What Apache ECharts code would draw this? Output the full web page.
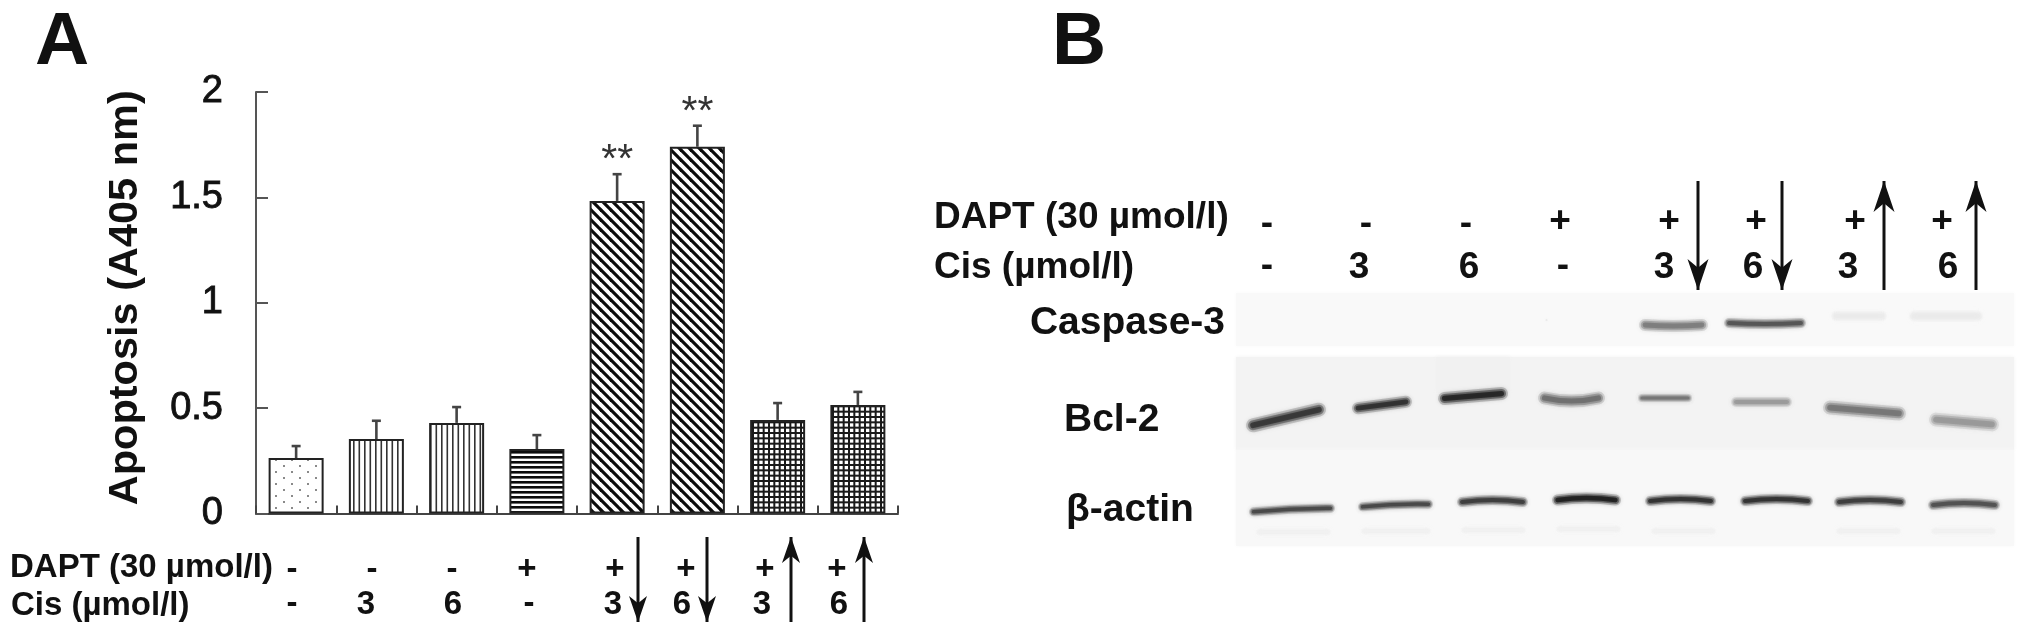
<!DOCTYPE html>
<html><head><meta charset="utf-8">
<style>html,body{margin:0;padding:0;background:#fff}#c{width:2031px;height:640px}</style>
<script src="https://cdn.jsdelivr.net/npm/echarts@6/dist/echarts.min.js"></script>
</head><body><div id="c"></div>
<script>
// ---------- data ----------
const groups = ['G1','G2','G3','G4','G5','G6','G7','G8'];
const apoptosis = [0.263,0.353,0.43,0.306,1.483,1.74,0.444,0.515];
const errorTop  = [0.32,0.44,0.505,0.372,1.61,1.84,0.524,0.577];
const stars     = ['','','','','**','**','',''];
const dapt = ['-','-','-','+','+','+','+','+'];
const cis  = ['-','3','6','-','3','6','3','6'];
const arrows = ['','','','','down','down','up','up'];
const blotLabels = ['Caspase-3','Bcl-2','β-actin'];
// blot bands, read in blot units: [xStart,yStart,xEnd,yEnd,thickness,density,bow]
const caspaseBands = [[309,27,312,27,3,.05,0],[403,32,472,32,12,.55,1],[488,30,570,30,10,.75,1],[595,23,651,23,10,.03,0],[673,23,747,23,11,.03,0]];
const bcl2Bands = [[10,134,90,115,14,.88,0],[116,116,176,108,12,.92,0],[202,106,272,100,13,.97,0],[302,105,369,105,13,.62,3],[402,105,456,105,8,.6,0],[495,109,556,109,10,.42,0],[587,114,670,121,14,.58,0],[693,126,763,132,14,.42,0]];
const actinBands = [[13,219,99,215,9,.82,-1],[122,214,197,211,9,.82,-1],[221,209,292,209,10,.87,-2],[316,207,385,207,11,1,-2],[409,208,480,208,10,.92,-2],[504,208,577,208,10,.92,-2],[598,209,670,209,10,.87,-2],[692,212,764,212,10,.77,-2]];
const actinGhostBands = [[20,239,95,239,7,.0,0],[125,238,195,238,7,.0,0],[225,237,290,237,7,.0,0],[320,236,385,236,7,.0,0],[415,238,480,238,7,.0,0],[600,238,665,238,7,.0,0],[695,238,760,238,7,.0,0]];
// blot backgrounds: [xStart,xEnd,yStart,yEnd,grey]
const blotPanels = [[0,778,0,53,249],[0,778,64,157,243],[200,274,64,100,241],[0,778,157,253,248]];

// ---------- layout ----------
const INK='#111';
const FONT='"Liberation Sans",Arial,sans-serif';
const aDaptX=[292,372,452,527,615,686,765,837], aCisX=[292,366,453,529,613,682,762,839];
const bDaptX=[1267,1366,1466,1560,1669,1756,1855,1942], bCisX=[1267,1359,1469,1563,1664,1753,1848,1948];
const aArrowX=[0,0,0,0,638,707,791,864], bArrowX=[0,0,0,0,1698,1782,1884,1976];

function tile(w,h,draw){const c=document.createElement('canvas');c.width=w;c.height=h;const g=c.getContext('2d');g.fillStyle='#fff';g.fillRect(0,0,w,h);draw(g);return {image:c,repeat:'repeat'};}
const dots=tile(16,12,g=>{g.fillStyle='#8a8a8a';[[3,3],[11,9]].forEach(p=>g.fillRect(p[0],p[1],2,2));});
const vert=tile(11,4,g=>{g.fillStyle='#333';g.fillRect(1,0,1.6,4);g.fillRect(6.5,0,1.6,4);});
const horiz=tile(4,5,g=>{g.fillStyle='#0c0c0c';g.fillRect(0,1,4,2.6);});
const diag=tile(10,10,g=>{g.strokeStyle='#0c0c0c';g.lineWidth=3.2;[-10,0,10].forEach(o=>{g.beginPath();g.moveTo(o,-1);g.lineTo(o+12,11);g.stroke();});});
const grid=tile(16,16,g=>{g.fillStyle='#1a1a1a';[0,5.33,10.67].forEach(o=>{g.fillRect(o,0,2,16);g.fillRect(0,o,16,2);});});
const fills=[dots,vert,vert,horiz,diag,diag,grid,grid];

function txt(text,x,y,size,align,weight){return {type:'text',x:x,y:y,z:10,style:{text:text,font:(weight||'bold')+' '+size+'px '+FONT,fill:INK,textAlign:align||'left',textVerticalAlign:'middle'}};}
function arrow(x,y0,y1,dir,hw,hh){
  const tip=dir==='down'?y1:y0, s=dir==='down'?-1:1;
  return [{type:'line',z:9,shape:{x1:x,y1:y0,x2:x,y2:y1},style:{stroke:INK,lineWidth:3}},
    {type:'polygon',z:9,shape:{points:[[x,tip],[x-hw,tip+s*hh],[x,tip+s*hh*0.72],[x+hw,tip+s*hh]]},style:{fill:INK}}];
}
const gfx=[
  txt('A',35,43,75),txt('B',1052,43,75),
  txt('DAPT (30 µmol/l)',10,568,33),txt('Cis (µmol/l)',11,606,33),
  txt('DAPT (30 µmol/l)',934,218,37),txt('Cis (µmol/l)',934,268,37),
  txt(blotLabels[0],1225,323,39,'right'),txt(blotLabels[1],1064,420,39),txt(blotLabels[2],1066,510,39)
];
dapt.forEach((s,i)=>{gfx.push(txt(s,aDaptX[i],570,33,'center'),txt(s,bDaptX[i],s==='+'?222:224,37,'center'));});
cis.forEach((s,i)=>{gfx.push(txt(s,aCisX[i],s==='-'?604:605,33,'center'),txt(s,bCisX[i],s==='-'?266:268,37,'center'));});
arrows.forEach((d,i)=>{if(!d)return;
  gfx.push(...arrow(aArrowX[i],537,622,d,9,26));
  gfx.push(...arrow(bArrowX[i],181,290,d,10.5,31));
});

const bands=caspaseBands.concat(bcl2Bands,actinBands,actinGhostBands);
const option={
  animation:false,backgroundColor:'#fff',textStyle:{fontFamily:FONT},
  graphic:{elements:gfx},
  grid:[{left:256,top:92,width:642,height:421.5},{left:1236,top:293,width:778,height:253}],
  xAxis:[
    {type:'category',gridIndex:0,data:groups,axisLabel:{show:false},axisLine:{lineStyle:{color:'#444',width:2}},axisTick:{show:true,interval:0,inside:true,length:8,lineStyle:{color:'#444',width:2}}},
    {type:'value',gridIndex:1,min:0,max:778,show:false}
  ],
  yAxis:[
    {type:'value',gridIndex:0,min:0,max:2,interval:0.5,name:'Apoptosis (A405 nm)',nameLocation:'middle',nameGap:109,
     nameTextStyle:{fontFamily:FONT,fontWeight:'bold',fontSize:41.5,color:INK,padding:[0,0,0,10]},
     splitLine:{show:false},
     axisLine:{show:true,lineStyle:{color:'#555',width:2}},axisTick:{show:true,inside:true,length:12,lineStyle:{color:'#555',width:2}},
     axisLabel:{margin:33,padding:[9,0,0,0],fontFamily:FONT,fontSize:38,color:INK,textBorderColor:INK,textBorderWidth:0.9}},
    {type:'value',gridIndex:1,min:0,max:253,inverse:true,show:false}
  ],
  series:[
    {type:'bar',xAxisIndex:0,yAxisIndex:0,barWidth:55,z:3,
     data:apoptosis.map((v,i)=>({value:v,itemStyle:{color:fills[i],borderColor:'#222',borderWidth:2}}))},
    {type:'custom',xAxisIndex:0,yAxisIndex:0,z:4,
     data:groups.map((g,i)=>[i,apoptosis[i],errorTop[i],stars[i]]),
     encode:{x:0,y:[1,2]},
     renderItem:function(p,api){
       const a=api.coord([api.value(0),api.value(1)]),b=api.coord([api.value(0),api.value(2)]);
       const st={stroke:'#444',lineWidth:2.6};
       const ch=[{type:'line',shape:{x1:a[0],y1:a[1],x2:b[0],y2:b[1]},style:st},
         {type:'line',shape:{x1:b[0]-4.5,y1:b[1],x2:b[0]+4.5,y2:b[1]},style:st}];
       const s=stars[p.dataIndex];
       if(s)ch.push({type:'text',style:{text:s,x:b[0],y:b[1]+7,font:'normal 41px '+FONT,fill:'#333',textAlign:'center',textVerticalAlign:'bottom'}});
       return {type:'group',children:ch};
     }},
    {type:'custom',xAxisIndex:1,yAxisIndex:1,z:1,data:blotPanels,
     encode:{x:[0,1],y:[2,3]},
     renderItem:function(p,api){
       const a=api.coord([api.value(0),api.value(2)]),b=api.coord([api.value(1),api.value(3)]),g=api.value(4);
       return {type:'rect',shape:{x:a[0],y:a[1],width:b[0]-a[0],height:b[1]-a[1]},style:{fill:'rgb('+g+','+g+','+g+')',shadowBlur:4,shadowColor:'rgb('+g+','+g+','+g+')'}};
     }},
    {type:'custom',xAxisIndex:1,yAxisIndex:1,z:2,data:bands,
     encode:{x:[0,2],y:[1,3]},
     renderItem:function(p,api){
       const a=api.coord([api.value(0),api.value(1)]),b=api.coord([api.value(2),api.value(3)]);
       const t=api.value(4),d=api.value(5),bow=api.value(6),g=Math.round(240-d*220);
       const inset=Math.min(t/2,Math.abs(b[0]-a[0])/2);
       const k=inset/Math.max(1,b[0]-a[0]);
       const x1=a[0]+inset,x2=b[0]-inset,y1=a[1]+(b[1]-a[1])*k,y2=b[1]-(b[1]-a[1])*k;
       const shape={x1:x1,y1:y1,x2:x2,y2:y2,cpx1:(x1+x2)/2,cpy1:(y1+y2)/2+bow*2};
       const col=al=>'rgba('+g+','+g+','+g+','+al+')';
       const ly=(w,al,blur)=>({type:'bezierCurve',shape:shape,style:{fill:null,stroke:col(al),lineWidth:w,lineCap:'round',shadowBlur:blur,shadowColor:col(al)}});
       return {type:'group',children:[ly(t,.2,6),ly(t*.7,.4,5),ly(t*.4,.75,4)]};
     }}
  ]
};
echarts.init(document.getElementById('c'),null,{renderer:'canvas'}).setOption(option);
</script></body></html>
